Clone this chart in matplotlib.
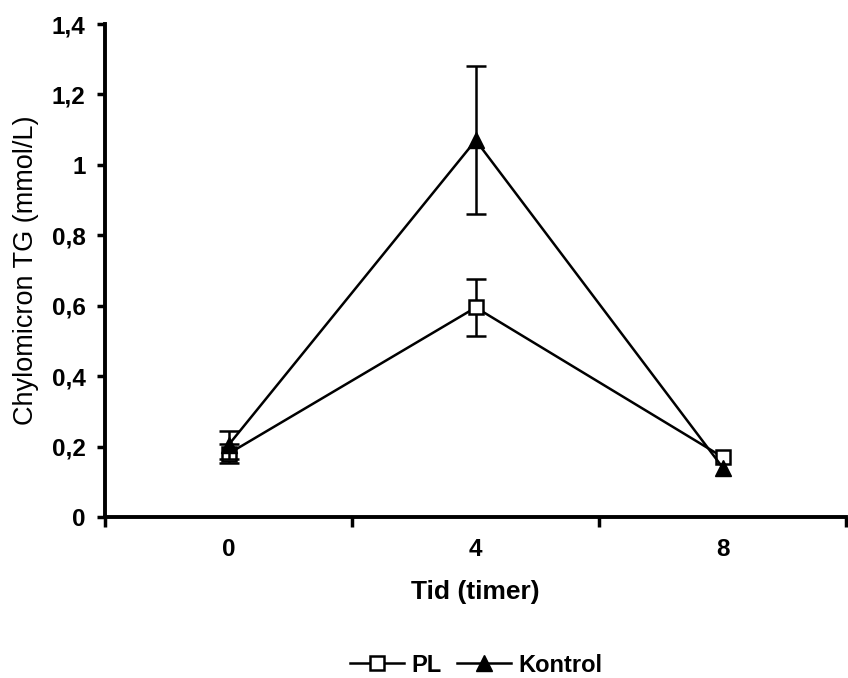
import matplotlib.pyplot as plt
from matplotlib.lines import Line2D
import numpy as np

plt.rcParams['font.family'] = ['Liberation Sans', 'DejaVu Sans']

## data
tider = ['0', '4', '8']
pl_mean = [0.18, 0.595, 0.17]
pl_err = [0.028, 0.08, 0.0]
kontrol_mean = [0.205, 1.07, 0.14]
kontrol_err = [0.04, 0.21, 0.0]

x = np.arange(len(tider))

fig = plt.figure(figsize=(8.48, 6.78), dpi=100)
ax = fig.add_axes([0.124, 0.2375, 0.874, 0.727])

## lines + error bars (only where an error is visible)
def draw(mean, err, marker, face, z):
    ax.plot(x, mean, '-' + marker, color='black', mfc=face, mec='black',
            ms=10.5 if marker == 's' else 11.5, mew=1.8 if marker == 's' else 1.0, lw=1.8, zorder=z)
    idx = [i for i in range(len(err)) if err[i] > 0]
    ax.errorbar(x[idx], np.array(mean)[idx], yerr=np.array(err)[idx], fmt='none', ecolor='black',
                elinewidth=1.8, capsize=7, capthick=1.8, zorder=z - 0.5)

draw(pl_mean, pl_err, 's', 'white', 3)
draw(kontrol_mean, kontrol_err, '^', 'black', 4)

## axes
ax.set_xlim(-0.5, 2.5)
ax.set_ylim(0, 1.4)
ax.set_yticks(np.arange(0, 1.41, 0.2))
ax.set_yticklabels(['0', '0,2', '0,4', '0,6', '0,8', '1', '1,2', '1,4'])
ax.set_xticks([-0.5, 0.5, 1.5, 2.5])
ax.set_xticklabels([])
ax.set_xticks(x, minor=True)
ax.set_xticklabels(tider, minor=True)
ax.tick_params(axis='x', which='minor', length=0, pad=15, labelsize=17.5)
ax.tick_params(axis='x', which='major', length=7, width=2.5, direction='out')
ax.tick_params(axis='y', length=6, width=2.5, direction='out', labelsize=17.5, pad=8)
for lab in ax.get_xticklabels(minor=True) + ax.get_yticklabels():
    lab.set_fontweight('bold')

for s in ['top', 'right']:
    ax.spines[s].set_visible(False)
for s in ['left', 'bottom']:
    ax.spines[s].set_linewidth(2.8)

## titles
ax.set_xlabel('Tid (timer)', fontsize=19, fontweight='bold', labelpad=14)
ax.yaxis.set_label_coords(-0.089, 0.5)
ax.set_ylabel('Chylomicron TG (mmol/L)', fontsize=19.5)

## legend
handles = [Line2D([], [], color='black', lw=1.8, marker='s', mfc='white', mec='black', ms=10.5, mew=1.8),
           Line2D([], [], color='black', lw=1.8, marker='^', mfc='black', mec='black', ms=11.5)]
fig.legend(handles, ['PL', 'Kontrol'], loc='center', bbox_to_anchor=(0.561, 0.019), ncol=2,
           frameon=False, prop={'weight': 'bold', 'size': 17}, handlelength=2.3,
           handletextpad=0.3, columnspacing=0.65, borderpad=0)

fig.savefig('out.png', dpi=100)
